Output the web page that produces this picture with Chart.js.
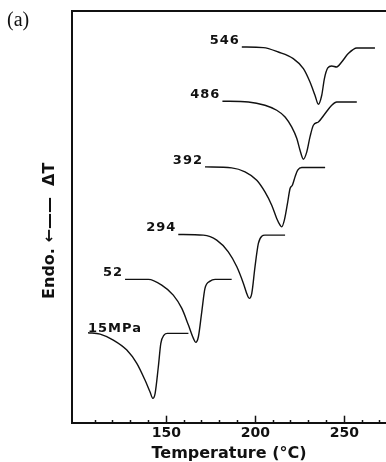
<!DOCTYPE html>
<html>
<head>
<meta charset="utf-8">
<script src="https://cdn.jsdelivr.net/npm/chart.js@4.4.1/dist/chart.umd.min.js"></script>
<style>
  body { margin: 0; background: #fff; }
  #wrap { width: 386px; height: 462px; position: relative; }
</style>
</head>
<body>
<div id="wrap"><canvas id="dscChart"></canvas></div>
<script>
// DSC melting curves, one per pressure, shifted up for clarity
var pressures = ['15MPa', '52', '294', '392', '486', '546'];

var temp15 = [106.0, 112.8, 120.2, 127.8, 133.4, 138.0, 140.8, 142.4, 143.7, 145.5, 146.9, 148.7, 150.6, 162.4];
var dT15   = [90.0, 88.7, 82.7, 72.7, 59.4, 42.7, 31.0, 24.4, 29.4, 56.0, 79.4, 87.7, 89.4, 89.4];

var temp52 = [126.8, 139.9, 147.4, 153.9, 158.7, 162.4, 165.2, 166.5, 168.0, 169.9, 171.7, 174.6, 177.4, 186.7];
var dT52   = [143.4, 143.4, 137.7, 127.7, 114.4, 97.7, 84.4, 80.4, 86.0, 111.0, 134.4, 141.7, 143.4, 143.4];

var temp294 = [156.7, 170.8, 178.3, 184.8, 189.6, 193.3, 195.5, 196.6, 198.0, 199.8, 201.7, 203.6, 205.4, 216.7];
var dT294   = [188.4, 187.7, 182.7, 171.0, 156.0, 139.4, 127.7, 124.4, 129.4, 156.0, 179.4, 186.7, 187.7, 187.7];

var temp392 = [171.7, 186.7, 194.2, 200.8, 205.4, 209.2, 212.0, 213.9, 214.8, 216.3, 218.2, 219.5, 220.8, 222.3, 223.8, 226.1, 239.2];
var dT392   = [256.0, 255.0, 251.0, 242.7, 231.0, 217.7, 204.4, 197.7, 196.0, 202.7, 221.0, 234.4, 237.7, 246.0, 252.7, 255.4, 255.4];

var temp486 = [181.5, 196.1, 205.4, 212.0, 216.7, 220.4, 223.3, 225.1, 227.0, 228.9, 230.7, 232.6, 235.4, 239.2, 242.9, 245.7, 257.0];
var dT486   = [321.7, 321.0, 317.7, 312.7, 306.0, 296.0, 284.4, 272.7, 263.7, 271.0, 286.0, 297.7, 301.0, 309.4, 317.7, 321.0, 321.0];

var temp546 = [192.4, 204.5, 212.9, 221.3, 227.0, 230.7, 233.5, 235.4, 237.3, 238.8, 240.7, 242.9, 245.7, 248.5, 252.2, 257.0, 267.2];
var dT546   = [376.0, 375.4, 371.0, 364.4, 354.4, 341.0, 327.7, 318.7, 327.7, 344.4, 355.0, 357.0, 356.0, 361.0, 369.4, 375.0, 375.0];

var xTicks = [110, 120, 130, 140, 150, 160, 170, 180, 190, 200, 210, 220, 230, 240, 250, 260, 270];
var labelledTicks = [150, 200, 250];

var allTemps = [temp15, temp52, temp294, temp392, temp486, temp546];
var allDT = [dT15, dT52, dT294, dT392, dT486, dT546];

var datasets = [];
for (var i in pressures) {
	var pts = [];
	for (var j in allTemps[i]) {
		pts.push({ x: allTemps[i][j], y: allDT[i][j] });
	}
	datasets.push({
		label: pressures[i],
		data: pts,
		borderColor: '#111',
		borderWidth: 1.4,
		pointRadius: 0,
		cubicInterpolationMode: 'monotone',
		labelAlign: i == 0 ? 'left' : 'right'
	});
}

// pressure labels sit at the start of each curve
var curveLabels = {
	id: 'curveLabels',
	afterDatasetsDraw: function(chart) {
		var ctx = chart.ctx;
		ctx.save();
		ctx.font = 'bold 13px "DejaVu Sans"';
		ctx.letterSpacing = '1px';
		ctx.fillStyle = '#111';
		ctx.textBaseline = 'alphabetic';
		chart.data.datasets.forEach(function(ds, k) {
			var first = chart.getDatasetMeta(k).data[0];
			if (ds.labelAlign == 'left') {
				ctx.textAlign = 'left';
				ctx.fillText(ds.label, first.x, first.y - 1);
			} else {
				ctx.textAlign = 'right';
				ctx.fillText(ds.label, first.x - 2, first.y - 3);
			}
		});
		ctx.restore();
	}
};

var panelTag = {
	id: 'panelTag',
	afterDraw: function(chart) {
		var ctx = chart.ctx;
		ctx.save();
		ctx.font = '20px "Liberation Serif"';
		ctx.fillStyle = '#111';
		ctx.textAlign = 'left';
		ctx.textBaseline = 'alphabetic';
		ctx.fillText('(a)', 7, 26);
		ctx.restore();
	}
};

var nb = '\u00a0';
var ctx = document.getElementById('dscChart');

var dscChart = new Chart(ctx, {
	type: 'line',
	data: { datasets: datasets },
	options: {
		responsive: true,
		maintainAspectRatio: false,
		animation: false,
		events: [],
		layout: { padding: { top: 11, left: 0, right: 0, bottom: 0 }, autoPadding: false },
		plugins: { legend: { display: false }, tooltip: { enabled: false } },
		scales: {
			x: {
				type: 'linear',
				position: 'bottom',
				min: 97,
				max: 273.4,
				afterBuildTicks: function(scale) {
					scale.ticks = xTicks.map(function(v) { return { value: v }; });
				},
				border: { display: true, color: '#111', width: 2 },
				grid: {
					drawOnChartArea: false,
					drawTicks: true,
					tickLength: -7,
					tickColor: '#111',
					tickWidth: 1.5,
					tickBorderDash: function(c) {
						return labelledTicks.indexOf(c.tick.value) >= 0 ? [] : [4, 20];
					}
				},
				ticks: {
					padding: 4,
					maxRotation: 0,
					autoSkip: false,
					color: '#111',
					font: { family: 'DejaVu Sans', weight: 'bold', size: 14, lineHeight: 1.914 },
					callback: function(value) {
						return labelledTicks.indexOf(value) >= 0 ? String(value) : '';
					}
				},
				title: {
					display: true,
					text: 'Temperature (°C)',
					color: '#111',
					font: { family: 'DejaVu Sans', weight: 'bold', size: 16, lineHeight: 1 },
					padding: { top: -4.5, bottom: 0 }
				}
			},
			x2: {
				type: 'linear',
				position: 'top',
				border: { display: true, color: '#111', width: 2 },
				grid: { display: false, drawTicks: false },
				ticks: { display: false }
			},
			y: {
				min: 0,
				max: 412,
				border: { display: true, color: '#111', width: 2 },
				grid: { display: false, drawTicks: false },
				ticks: { display: false },
				title: {
					display: true,
					text: 'Endo. ←——' + nb + nb + 'ΔT' + nb + nb + nb + nb + nb,
					color: '#111',
					font: { family: 'DejaVu Sans', weight: 'bold', size: 16, lineHeight: 1.2 },
					padding: { top: 40.4, bottom: 12.4 }
				}
			}
		}
	},
	plugins: [curveLabels, panelTag]
});
</script>
</body>
</html>
